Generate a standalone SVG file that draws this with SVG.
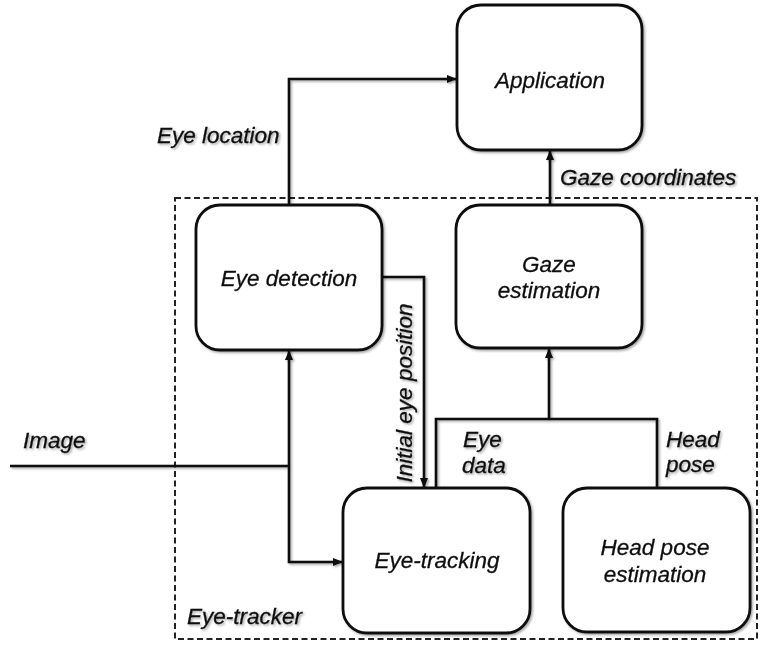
<svg xmlns="http://www.w3.org/2000/svg" width="762" height="645" viewBox="0 0 762 645">
<style>
.box{fill:#fff;stroke:#111;stroke-width:2.8}
.ln{fill:none;stroke:#111;stroke-width:2.6}
.dash{fill:none;stroke:#222;stroke-width:2;stroke-dasharray:6 3.5}
text{font-family:"Liberation Sans",Arial,sans-serif;font-style:italic;font-size:22.5px;fill:#111;stroke:#111;stroke-width:0.3}
.c{text-anchor:middle}
</style>
<defs>
<filter id="sh" x="-10%" y="-10%" width="120%" height="120%">
<feDropShadow dx="1.5" dy="1.5" stdDeviation="1" flood-color="#000" flood-opacity="0.35"/>
</filter>
<marker id="ar" viewBox="0 0 10 10" refX="10" refY="5" markerWidth="10" markerHeight="10" markerUnits="userSpaceOnUse" orient="auto">
<path d="M0,1 L10,5 L0,9 z" fill="#111"/>
</marker>
</defs>
<rect class="dash" x="175" y="198" width="582" height="441"/>
<g id="connectors" filter="url(#sh)">
<path class="ln" d="M289,205 V79 H457" marker-end="url(#ar)"/>
<path class="ln" d="M550,205 V150" marker-end="url(#ar)"/>
<path class="ln" d="M382,277 H424 V488" marker-end="url(#ar)"/>
<path class="ln" d="M436,488 V419 H657 V488"/>
<path class="ln" d="M549,419 V348" marker-end="url(#ar)"/>
<path class="ln" d="M10,466 H289"/>
<path class="ln" d="M289,466 V350" marker-end="url(#ar)"/>
<path class="ln" d="M289,466 V562 H343" marker-end="url(#ar)"/>
</g>
<g id="application" filter="url(#sh)">
<rect class="box" x="457" y="5" width="185" height="145" rx="24"/>
<text class="c" x="550" y="88">Application</text>
</g>
<g id="eye-detection" filter="url(#sh)">
<rect class="box" x="196" y="205" width="186" height="145" rx="24"/>
<text class="c" x="289" y="286">Eye detection</text>
</g>
<g id="gaze-estimation" filter="url(#sh)">
<rect class="box" x="456" y="205" width="186" height="143" rx="24"/>
<text class="c" x="549" y="272">Gaze</text>
<text class="c" x="549" y="298">estimation</text>
</g>
<g id="eye-tracking" filter="url(#sh)">
<rect class="box" x="343" y="488" width="187" height="145" rx="24"/>
<text class="c" x="437" y="568">Eye-tracking</text>
</g>
<g id="head-pose-estimation" filter="url(#sh)">
<rect class="box" x="563" y="488" width="187" height="144" rx="24"/>
<text class="c" x="655" y="555">Head pose</text>
<text class="c" x="655" y="582">estimation</text>
</g>
<g id="labels" filter="url(#sh)">
<text x="157" y="143">Eye location</text>
<text x="560" y="185">Gaze coordinates</text>
<text x="23" y="448">Image</text>
<text x="187" y="624">Eye-tracker</text>
<text x="463" y="447">Eye</text>
<text x="462" y="473">data</text>
<text x="666" y="447">Head</text>
<text x="666" y="472">pose</text>
<text class="c" transform="translate(412,393) rotate(-90)">Initial eye position</text>
</g>
</svg>
